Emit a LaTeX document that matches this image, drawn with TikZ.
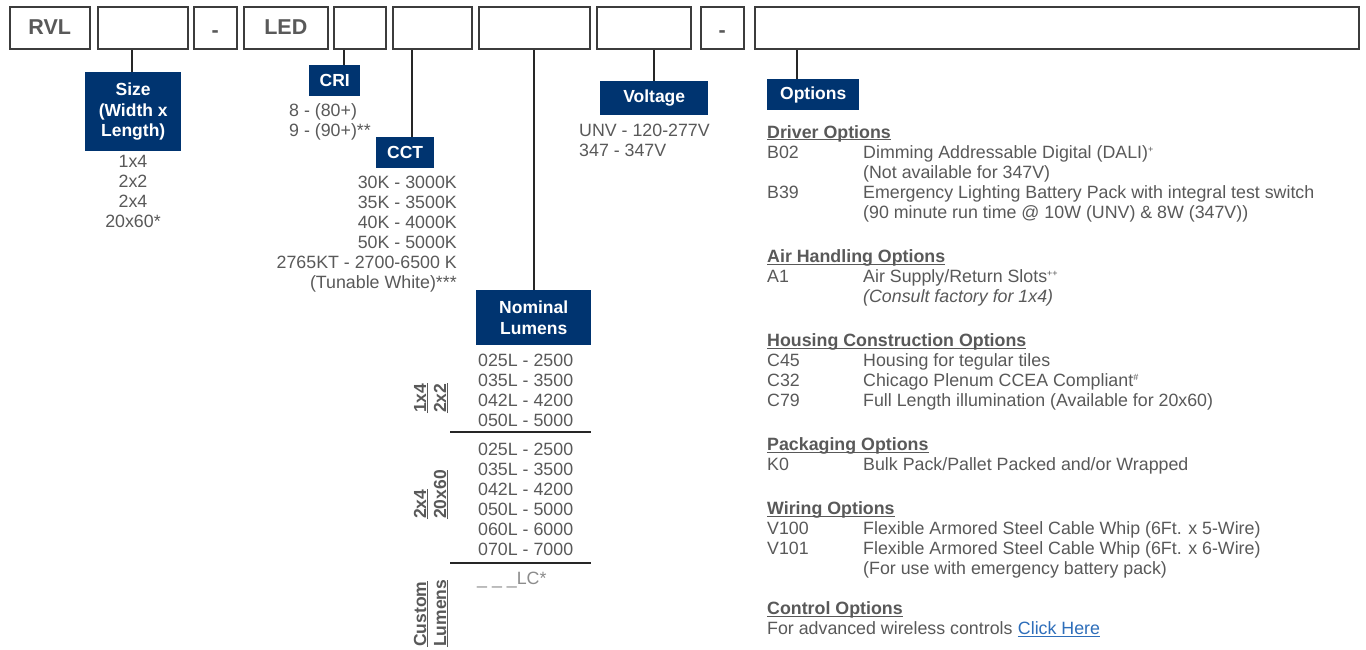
\documentclass[tikz,border=0pt]{standalone}
\usepackage{fontspec}
\setmainfont{Liberation Sans}
\definecolor{navy}{RGB}{0,52,112}
\definecolor{txt}{RGB}{89,89,89}
\definecolor{edge}{RGB}{60,60,60}
\definecolor{lnk}{RGB}{46,110,186}
\definecolor{lite}{RGB}{140,140,140}
\newcommand\sps[1]{\raisebox{6pt}{\fontsize{9}{9}\selectfont #1}}
\newcommand\hd[3]{\node[head] (#1) at (#2) {#3};
  \draw[ul] ([yshift=-1.8pt]#1.base west) -- ([yshift=-1.8pt]#1.base east);}
\newcommand\rotlab[3]{\node[rot] (#1) at (#2) {#3};
  \draw[ul] ([xshift=1.8pt]#1.base west) -- ([xshift=1.8pt]#1.base east);}
\begin{document}
\begin{tikzpicture}[x=1pt,y=-1pt,
  topbox/.style={draw=edge,line width=1.6pt,anchor=north west,inner sep=0pt,minimum height=42pt,text=txt,font=\fontsize{21.5}{22}\selectfont\bfseries,text height=13pt,text depth=0pt},
  catbox/.style={fill=navy,text=white,anchor=north west,inner sep=0pt,font=\fontsize{17.5}{20.5}\selectfont\bfseries,align=center},
  val/.style={text=txt,inner sep=0pt,font=\fontsize{17.8}{20}\selectfont},
  head/.style={text=txt,inner sep=0pt,font=\fontsize{17.8}{20}\selectfont\bfseries,anchor=base west},
  rot/.style={text=txt,inner sep=0pt,font=\fontsize{17.5}{20}\selectfont\bfseries,anchor=base west,rotate=90},
  conn/.style={draw=black!85,line width=1.8pt},
  ul/.style={draw=txt,line width=1.3pt},
  sep/.style={draw=black!85,line width=1.6pt}]
\fill[white] (0,0) rectangle (1366,649);
\useasboundingbox (0,0) rectangle (1366,649);

% top code boxes
\node[topbox,minimum width=80pt] (rvl) at (9,6) {RVL};
\node[topbox,minimum width=90pt] (sz) at (97,6) {};
\node[topbox,minimum width=43pt] (d1) at (193,6) {\raisebox{-3pt}{-}};
\node[topbox,minimum width=84pt] (led) at (243,6) {LED};
\node[topbox,minimum width=52pt] (cri) at (333,6) {};
\node[topbox,minimum width=79pt] (cct) at (392,6) {};
\node[topbox,minimum width=111pt] (lum) at (478,6) {};
\node[topbox,minimum width=94pt] (volt) at (596,6) {};
\node[topbox,minimum width=43pt] (d2) at (700,6) {\raisebox{-3pt}{-}};
\node[topbox,minimum width=604pt] (opt) at (754,6) {};

% category boxes
\node[catbox,minimum width=96pt,minimum height=79pt] (szL) at (85,72) {Size\\(Width x\\Length)};
\node[catbox,minimum width=51pt,minimum height=31pt] (criL) at (309,65) {CRI};
\node[catbox,minimum width=58pt,minimum height=31pt] (cctL) at (376,137) {CCT};
\node[catbox,minimum width=115pt,minimum height=55pt] (lumL) at (476,290) {Nominal\\Lumens};
\node[catbox,minimum width=108pt,minimum height=34pt] (voltL) at (600,81) {Voltage};
\node[catbox,minimum width=92pt,minimum height=31pt] (optL) at (767,79) {Options};

% connectors
\coordinate (szC) at ([xshift=47pt]szL.north west);
\coordinate (criC) at ([xshift=35pt]criL.north west);
\coordinate (cctC) at ([xshift=36pt]cctL.north west);
\coordinate (optC) at ([xshift=30pt]optL.north west);
\draw[conn] (szC) -- (szC |- sz.south);
\draw[conn] (criC) -- (criC |- cri.south);
\draw[conn] (cctC) -- (cctC |- cct.south);
\draw[conn] (lumL.north) -- (lumL.north |- lum.south);
\draw[conn] (voltL.north) -- (voltL.north |- volt.south);
\draw[conn] (optC) -- (optC |- opt.south);

% size values
\foreach \t [count=\i] in {1x4,2x2,2x4,20x60*}
  \node[val,anchor=base] (szv\i) at (133,147+20*\i) {\t};
% CRI values
\node[val,anchor=base west] (criv1) at (289,116) {8 - (80+)};
\node[val,anchor=base west] (criv2) at (289,136) {9 - (90+)**};
% CCT values
\foreach \t [count=\i] in {{30K - 3000K},{35K - 3500K},{40K - 4000K},{50K - 5000K},{2765KT - 2700-6500 K},{(Tunable White)***}}
  \node[val,anchor=base east] (cctv\i) at (457,168+20*\i) {\t};
% voltage values
\node[val,anchor=base west] (vv1) at (579,136) {UNV - 120-277V};
\node[val,anchor=base west] (vv2) at (579,156) {347 - 347V};

% lumens values
\foreach \t [count=\i] in {{025L - 2500},{035L - 3500},{042L - 4200},{050L - 5000}}
  \node[val,anchor=base west] (lA\i) at (478,346+20*\i) {\t};
\foreach \t [count=\i] in {{025L - 2500},{035L - 3500},{042L - 4200},{050L - 5000},{060L - 6000},{070L - 7000}}
  \node[val,anchor=base west] (lB\i) at (478,435+20*\i) {\t};
\node[val,anchor=base west,text=lite] (lC) at (477,584) {\_ \_ \_LC*};
\draw[sep] (450,432) -- (591,432);
\draw[sep] (450,563) -- (591,563);

% rotated group labels
\rotlab{r1}{426,413}{1x4}
\rotlab{r2}{446,413}{2x2}
\rotlab{r3}{426,519}{2x4}
\rotlab{r4}{446,519}{20x60}
\rotlab{r5}{426,647}{Custom}
\rotlab{r6}{446,647}{Lumens}

% options list
\hd{h1}{767,138}{Driver Options}
\node[val,anchor=base west] (c1) at (767,158) {B02};
\node[val,anchor=base west] (t1) at (863,158) {Dimming Addressable Digital (DALI)\sps{+}};
\node[val,anchor=base west] (t2) at (863,178) {(Not available for 347V)};
\node[val,anchor=base west] (c2) at (767,198) {B39};
\node[val,anchor=base west] (t3) at (863,198) {Emergency Lighting Battery Pack with integral test switch};
\node[val,anchor=base west] (t4) at (863,218) {(90 minute run time @ 10W (UNV) \& 8W (347V))};

\hd{h2}{767,262.5}{Air Handling Options}
\node[val,anchor=base west] (c3) at (767,282.5) {A1};
\node[val,anchor=base west] (t5) at (863,282.5) {Air Supply/Return Slots\sps{++}};
\node[val,anchor=base west] (t6) at (863,302.5) {\itshape (Consult factory for 1x4)};

\hd{h3}{767,346.5}{Housing Construction Options}
\node[val,anchor=base west] (c4) at (767,366.5) {C45};
\node[val,anchor=base west] (t7) at (863,366.5) {Housing for tegular tiles};
\node[val,anchor=base west] (c5) at (767,386.5) {C32};
\node[val,anchor=base west] (t8) at (863,386.5) {Chicago Plenum CCEA Compliant\sps{\#}};
\node[val,anchor=base west] (c6) at (767,406.5) {C79};
\node[val,anchor=base west] (t9) at (863,406.5) {Full Length illumination (Available for 20x60)};

\hd{h4}{767,450.5}{Packaging Options}
\node[val,anchor=base west] (c7) at (767,470.5) {K0};
\node[val,anchor=base west] (t10) at (863,470.5) {Bulk Pack/Pallet Packed and/or Wrapped};

\hd{h5}{767,514.5}{Wiring Options}
\node[val,anchor=base west] (c8) at (767,534.5) {V100};
\node[val,anchor=base west] (t11) at (863,534.5) {Flexible Armored Steel Cable Whip (6Ft. x 5-Wire)};
\node[val,anchor=base west] (c9) at (767,554.5) {V101};
\node[val,anchor=base west] (t12) at (863,554.5) {Flexible Armored Steel Cable Whip (6Ft. x 6-Wire)};
\node[val,anchor=base west] (t13) at (863,574.5) {(For use with emergency battery pack)};

\hd{h6}{767,614.5}{Control Options}
\node[val,anchor=base west] (t14) at (767,634.5) {For advanced wireless controls};
\node[val,anchor=base west,text=lnk] (link) at ([xshift=5pt]t14.base east) {Click Here};
\draw[draw=lnk,line width=1.2pt] ([yshift=-1.8pt]link.base west) -- ([yshift=-1.8pt]link.base east);
\end{tikzpicture}
\end{document}
